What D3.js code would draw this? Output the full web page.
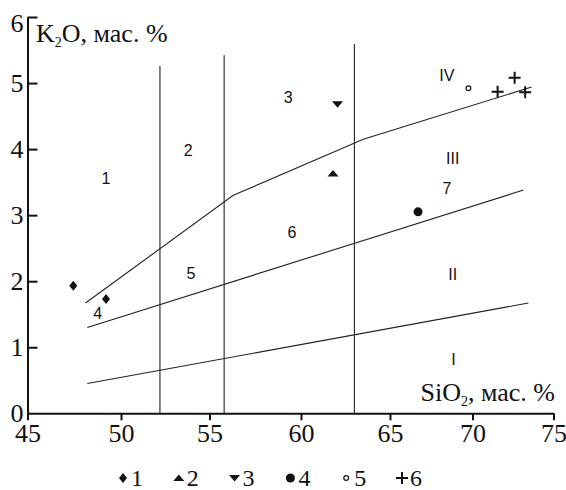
<!DOCTYPE html>
<html>
<head>
<meta charset="utf-8">
<script src="https://cdn.jsdelivr.net/npm/d3@7"></script>
<style>
    body { margin: 0; background: #fff; }
    .tick text { font-family: "Liberation Serif", "Times New Roman", serif; font-size: 26px; fill: #111; }
    .domain, .tick line { stroke: #111; stroke-width: 2; }
    .field { font-family: "Liberation Sans", Arial, sans-serif; font-size: 16px; fill: #111; }
    .title { font-family: "Liberation Serif", "Times New Roman", serif; font-size: 26px; fill: #111; }
</style>
</head>
<body>
<div id="chart"></div>
<script>
// axis ticks
var xTicks = [45, 50, 55, 60, 65, 70, 75];
var yTicks = [0, 1, 2, 3, 4, 5, 6];

// SiO2 boundaries (vertical lines) and their upper ends, K2O
var siO2Bounds = [52.2, 55.8, 63.0];
var boundTops = [5.26, 5.42, 5.59];

// series boundaries (SiO2, K2O)
var upperLine = [[48.1, 1.67], [56.3, 3.3], [63.5, 4.15], [73.65, 4.94]];
var middleLine = [[48.2, 1.30], [73.15, 3.38]];
var lowerLine = [[48.2, 0.45], [73.45, 1.67]];

// samples
var group1 = [[47.45, 1.93], [49.2, 1.73]];
var group2 = [[61.8, 3.63]];
var group3 = [[62.05, 4.68]];
var group4 = [[66.7, 3.05]];
var group5 = [[69.75, 4.92]];
var group6 = [[71.55, 4.87], [72.6, 5.08], [73.25, 4.86]];

// field labels
var fieldNames = ["1", "2", "3", "4", "5", "6", "7", "IV", "III", "II", "I"];
var fieldX = [49.2, 53.8, 59.3, 48.75, 53.95, 59.5, 68.45, 68.45, 68.8, 68.8, 68.85];
var fieldY = [3.56, 3.99, 4.79, 1.52, 2.12, 2.74, 3.41, 5.12, 3.86, 2.11, 0.82];

var legendNames = ["1", "2", "3", "4", "5", "6"];

K2OPlot = function(_parentElement) {
    this.parentElement = _parentElement;
    this.initVis();
}

K2OPlot.prototype.initVis = function() {
    var vis = this;

    vis.width = 566;
    vis.height = 490;

    vis.svg = d3.select("#" + vis.parentElement).append("svg")
        .attr("width", vis.width)
        .attr("height", vis.height);

    // the original axis is drawn a little unevenly, so each tick gets its own stop
    vis.x = d3.scaleLinear()
        .domain(xTicks)
        .range([27.5, 121, 209.5, 301, 390, 472.5, 553.5]);

    vis.y = d3.scaleLinear()
        .domain([0, 6])
        .range([413.3, 17]);

    // marker shapes
    vis.diamond = { draw: function(c) { c.moveTo(0, -5); c.lineTo(4, 0); c.lineTo(0, 5); c.lineTo(-4, 0); c.closePath(); } };
    vis.triUp = { draw: function(c) { c.moveTo(-5.5, 3); c.lineTo(5.5, 3); c.lineTo(0, -3.5); c.closePath(); } };
    vis.triDown = { draw: function(c) { c.moveTo(-5.5, -3); c.lineTo(5.5, -3); c.lineTo(0, 3.5); c.closePath(); } };
    vis.cross = { draw: function(c) { c.moveTo(-6, 0); c.lineTo(6, 0); c.moveTo(0, -6); c.lineTo(0, 6); } };

    vis.groups = [
        { data: group1, type: vis.diamond, size: 0, fill: "#111", stroke: "none" },
        { data: group2, type: vis.triUp, size: 0, fill: "#111", stroke: "none" },
        { data: group3, type: vis.triDown, size: 0, fill: "#111", stroke: "none" },
        { data: group4, type: d3.symbolCircle, size: 64, fill: "#111", stroke: "none" },
        { data: group5, type: d3.symbolCircle, size: 18, fill: "#fff", stroke: "#111" },
        { data: group6, type: vis.cross, size: 0, fill: "none", stroke: "#111" }
    ];

    vis.wrangleData();
}

K2OPlot.prototype.wrangleData = function() {
    var vis = this;

    vis.fields = fieldNames.map(function(n, i) {
        return { name: n, x: fieldX[i], y: fieldY[i] };
    });

    vis.bounds = siO2Bounds.map(function(v, i) {
        return { x: v, top: boundTops[i] };
    });

    vis.updateVis();
}

K2OPlot.prototype.updateVis = function() {
    var vis = this;

    var line = d3.line()
        .x(function(d) { return vis.x(d[0]); })
        .y(function(d) { return vis.y(d[1]); });

    // vertical SiO2 boundaries
    vis.svg.selectAll(".bound")
        .data(vis.bounds)
        .enter().append("line")
        .attr("class", "bound")
        .attr("x1", function(d) { return vis.x(d.x); })
        .attr("x2", function(d) { return vis.x(d.x); })
        .attr("y1", vis.y(0))
        .attr("y2", function(d) { return vis.y(d.top); })
        .attr("stroke", "#222")
        .attr("stroke-width", 1.1);

    vis.svg.selectAll(".series")
        .data([upperLine, middleLine, lowerLine])
        .enter().append("path")
        .attr("class", "series")
        .attr("d", line)
        .attr("fill", "none")
        .attr("stroke", "#222")
        .attr("stroke-width", 1.1);

    // axes
    vis.svg.append("g")
        .attr("transform", "translate(0," + vis.y(0) + ")")
        .call(d3.axisBottom(vis.x).tickValues(xTicks).tickFormat(d3.format("d"))
            .tickSize(7).tickSizeOuter(0).tickPadding(3));

    var yAxis = vis.svg.append("g")
        .attr("transform", "translate(" + vis.x(45) + ",0)")
        .call(d3.axisLeft(vis.y).tickValues(yTicks).tickFormat(d3.format("d"))
            .tickSize(-10).tickSizeOuter(0).tickPadding(4));

    yAxis.selectAll(".tick").filter(function(d) { return d === 0; }).select("line").remove();
    // top label sits a bit under its tick in the original
    yAxis.selectAll(".tick").filter(function(d) { return d === 6; }).select("text").attr("dy", "0.55em");

    // axis titles
    var yTitle = vis.svg.append("text").attr("class", "title")
        .attr("x", 36).attr("y", 42);
    yTitle.append("tspan").text("K");
    yTitle.append("tspan").attr("dy", 5).style("font-size", "14px").text("2");
    yTitle.append("tspan").attr("dy", -5).text("O, мас. %");

    var xTitle = vis.svg.append("text").attr("class", "title")
        .attr("x", 555).attr("y", 401).attr("text-anchor", "end");
    xTitle.append("tspan").text("SiO");
    xTitle.append("tspan").attr("dy", 5).style("font-size", "14px").text("2");
    xTitle.append("tspan").attr("dy", -5).text(", мас. %");

    // field labels
    vis.svg.selectAll(".field")
        .data(vis.fields)
        .enter().append("text")
        .attr("class", "field")
        .attr("x", function(d) { return vis.x(d.x); })
        .attr("y", function(d) { return vis.y(d.y); })
        .attr("dy", "0.36em")
        .attr("text-anchor", "middle")
        .text(function(d) { return d.name; });

    // sample markers
    vis.groups.forEach(function(g) {
        var sym = d3.symbol().type(g.type).size(g.size);
        vis.svg.selectAll(null)
            .data(g.data)
            .enter().append("path")
            .attr("transform", function(d) { return "translate(" + vis.x(d[0]) + "," + vis.y(d[1]) + ")"; })
            .attr("d", sym)
            .attr("fill", g.fill)
            .attr("stroke", g.stroke)
            .attr("stroke-width", g.type === vis.cross ? 2 : 1.2);
    });

    // legend
    var lx = d3.scalePoint().domain(legendNames).range([123, 402]);
    var legend = vis.svg.selectAll(".legend")
        .data(vis.groups)
        .enter().append("g")
        .attr("class", "legend")
        .attr("transform", function(d, i) { return "translate(" + lx(legendNames[i]) + ",478)"; });

    legend.append("path")
        .attr("d", function(g) { return d3.symbol().type(g.type).size(g.size)(); })
        .attr("fill", function(g) { return g.fill; })
        .attr("stroke", function(g) { return g.stroke; })
        .attr("stroke-width", function(g) { return g.type === vis.cross ? 2 : 1.2; });

    legend.append("text")
        .attr("class", "title")
        .attr("x", 8)
        .attr("y", 8)
        .style("font-size", "24px")
        .text(function(d, i) { return legendNames[i]; });
}

new K2OPlot("chart");
</script>
</body>
</html>
